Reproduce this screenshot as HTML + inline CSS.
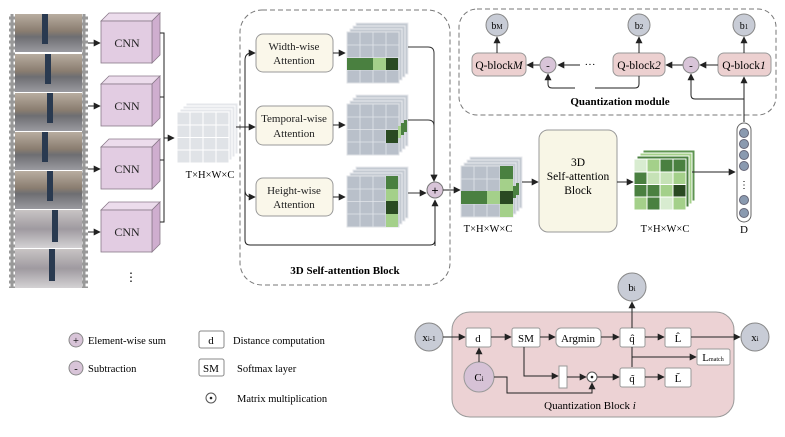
<!DOCTYPE html>
<html><head><meta charset="utf-8"><style>
html,body{margin:0;padding:0;background:#fff;}
svg{display:block;font-family:"Liberation Serif",serif;}
</style></head><body>
<svg width="785" height="437" viewBox="0 0 785 437" xmlns="http://www.w3.org/2000/svg">
<defs>
<marker id="a" viewBox="0 0 10 10" refX="9" refY="5" markerWidth="7" markerHeight="7" orient="auto" markerUnits="userSpaceOnUse"><path d="M0,0L10,5L0,10z" fill="#222"/></marker>
<pattern id="spr" width="6" height="6" patternUnits="userSpaceOnUse"><rect width="6" height="6" fill="#999"/><rect x="1.5" y="1.5" width="3" height="3" fill="#fff"/></pattern>
<linearGradient id="ph" x1="0" y1="0" x2="0" y2="1"><stop offset="0" stop-color="#b8ada0"/><stop offset="0.45" stop-color="#8a7d70"/><stop offset="0.6" stop-color="#6e6e72"/><stop offset="1" stop-color="#9a9aa0"/></linearGradient>
<linearGradient id="ph2" x1="0" y1="0" x2="0" y2="1"><stop offset="0" stop-color="#c8c4c4"/><stop offset="0.5" stop-color="#9f9aa0"/><stop offset="1" stop-color="#d4d2d4"/></linearGradient>
<g id="gg">
<rect x="9" y="-9" width="52" height="51" fill="#c4cad2" stroke="#e8eaee"/>
<rect x="6" y="-6" width="52" height="51" fill="#c4cad2" stroke="#e8eaee"/>
<rect x="3" y="-3" width="52" height="51" fill="#c4cad2" stroke="#e8eaee"/>
<rect x="0" y="0" width="52" height="51" fill="#b9c0ca" stroke="#dfe2e6"/>
<path d="M13,0V51M26,0V51M39,0V51M0,13H52M0,25.5H52M0,38H52" stroke="#e2e5ea" stroke-width="0.8"/>
</g>
</defs>

<rect x="9" y="14" width="6" height="274" fill="url(#spr)"/>
<rect x="82" y="14" width="6" height="274" fill="url(#spr)"/>
<g>
<rect x="15" y="14" width="67" height="38" fill="url(#ph)"/>
<rect x="15" y="54" width="67" height="38" fill="url(#ph)"/>
<rect x="15" y="93" width="67" height="38" fill="url(#ph)"/>
<rect x="15" y="132" width="67" height="38" fill="url(#ph)"/>
<rect x="15" y="171" width="67" height="38" fill="url(#ph)"/>
<rect x="15" y="210" width="67" height="38" fill="url(#ph2)"/>
<rect x="15" y="249" width="67" height="39" fill="url(#ph2)"/>
<path d="M45,14v30M48,54v30M50,93v30M45,132v30M50,171v30M55,210v32M52,249v32" stroke="#2a3a50" stroke-width="6"/>
</g>

<g stroke="#8a7a8a" stroke-width="0.8">
<g id="cube">
<path d="M101,21l8,-8h51l-8,8z" fill="#ecdcec"/>
<path d="M152,21l8,-8v42l-8,8z" fill="#cfaecf"/>
<rect x="101" y="21" width="51" height="42" fill="#e2cce2"/>
</g>
<use href="#cube" y="63"/><use href="#cube" y="126"/><use href="#cube" y="189"/>
</g>
<g font-size="12" text-anchor="middle" fill="#222">
<text x="127" y="47">CNN</text><text x="127" y="110">CNN</text><text x="127" y="173">CNN</text><text x="127" y="236">CNN</text>
</g>
<text x="131" y="281" font-size="12" text-anchor="middle">⋮</text>
<g stroke="#222" stroke-width="1" fill="none" marker-end="url(#a)">
<path d="M88,43H100"/><path d="M88,106H100"/><path d="M88,169H100"/><path d="M88,232H100"/>
</g>
<path d="M160,33h4v189h-4M160,97h4M160,160h4" stroke="#222" fill="none"/>
<path d="M164,138H174" stroke="#222" marker-end="url(#a)"/>

<g transform="translate(177,112)" opacity="0.75">
<rect x="9" y="-9" width="52" height="51" fill="#dde0e5" stroke="#fff"/>
<rect x="6" y="-6" width="52" height="51" fill="#dde0e5" stroke="#fff"/>
<rect x="3" y="-3" width="52" height="51" fill="#dde0e5" stroke="#fff"/>
<rect x="0" y="0" width="52" height="51" fill="#d6dae0" stroke="#fff"/>
<path d="M13,0V51M26,0V51M39,0V51M0,13H52M0,25.5H52M0,38H52" stroke="#fff"/>
</g>
<text x="210" y="178" font-size="10.5" text-anchor="middle">T×H×W×C</text>

<rect x="240" y="10" width="210" height="275" rx="22" fill="none" stroke="#777" stroke-dasharray="5,3"/>
<text x="345" y="274" font-size="11" font-weight="bold" text-anchor="middle">3D Self-attention Block</text>
<g fill="#faf7ea" stroke="#999">
<rect x="256" y="34" width="77" height="38" rx="7"/>
<rect x="256" y="106" width="77" height="39" rx="7"/>
<rect x="256" y="178" width="77" height="38" rx="7"/>
</g>
<g font-size="11" text-anchor="middle" fill="#222">
<text x="294" y="50">Width-wise</text><text x="294" y="64">Attention</text>
<text x="294" y="122">Temporal-wise</text><text x="294" y="137">Attention</text>
<text x="294" y="194">Height-wise</text><text x="294" y="208">Attention</text>
</g>
<path d="M236,127H245M245,60V240q0,5 5,5H430q5,0 5,-5V201" stroke="#222" fill="none"/>
<g stroke="#222" fill="none" marker-end="url(#a)">
<path d="M245,60q0,-7 7,-7H255"/><path d="M245,127H255"/><path d="M245,190q0,7 7,7H255"/>
<path d="M333,53H345"/><path d="M333,125H345"/><path d="M333,197H345"/>
<path d="M435,246V200"/>
</g>
<use href="#gg" x="347" y="32"/>
<g><rect x="347" y="58" width="13" height="12" fill="#4a8040"/><rect x="360" y="58" width="13" height="12" fill="#4a8040"/><rect x="373" y="58" width="13" height="12" fill="#a4d08a"/><rect x="386" y="58" width="12" height="12" fill="#2a4a22"/></g>
<use href="#gg" x="347" y="104"/>
<g><rect x="386" y="130" width="12" height="13" fill="#2a4a22"/><rect x="398" y="126" width="3" height="12" fill="#a4d08a"/><rect x="401" y="123" width="3" height="12" fill="#4a8040"/><rect x="404" y="120" width="3" height="12" fill="#4a8040"/></g>
<use href="#gg" x="347" y="176"/>
<g><rect x="386" y="176" width="12" height="13" fill="#4a8040"/><rect x="386" y="189" width="12" height="12" fill="#a4d08a"/><rect x="386" y="201" width="12" height="13" fill="#2a4a22"/><rect x="386" y="214" width="12" height="13" fill="#a4d08a"/></g>
<g stroke="#333" fill="none">
<path d="M408,47H428q6,0 6,6V181" marker-end="url(#a)"/>
<path d="M408,120H428q6,0 6,6V181" marker-end="url(#a)"/>
<path d="M408,193H426" marker-end="url(#a)"/>
</g>
<circle cx="435" cy="190" r="8" fill="#d8c4d8" stroke="#777"/>
<text x="435" y="194.5" font-size="12" text-anchor="middle" font-family="Liberation Sans,sans-serif">+</text>
<path d="M443,190H460" stroke="#222" marker-end="url(#a)"/>

<use href="#gg" x="461" y="166"/>
<g><rect x="500" y="166" width="13" height="13" fill="#4a8040"/><rect x="500" y="179" width="13" height="12" fill="#a4d08a"/><rect x="461" y="191" width="26" height="13" fill="#4a8040"/><rect x="487" y="191" width="13" height="13" fill="#a4d08a"/><rect x="500" y="191" width="13" height="13" fill="#2a4a22"/><rect x="500" y="204" width="13" height="13" fill="#a4d08a"/><rect x="513" y="186" width="3" height="12" fill="#4a8040"/><rect x="516" y="183" width="3" height="12" fill="#4a8040"/></g>
<text x="488" y="232" font-size="10.5" text-anchor="middle">T×H×W×C</text>
<path d="M522,182H538" stroke="#222" marker-end="url(#a)"/>
<rect x="539" y="130" width="78" height="102" rx="9" fill="#f8f6e6" stroke="#999"/>
<g font-size="11.5" text-anchor="middle"><text x="578" y="166">3D</text><text x="578" y="180">Self-attention</text><text x="578" y="194">Block</text></g>
<path d="M617,182H633" stroke="#222" marker-end="url(#a)"/>

<g transform="translate(634,159)">
<rect x="9" y="-9" width="52" height="51" fill="#5e9450" stroke="#fff"/>
<rect x="6" y="-6" width="52" height="51" fill="#a4d08a" stroke="#fff"/>
<rect x="3" y="-3" width="52" height="51" fill="#4a8040" stroke="#fff"/>
<rect x="0" y="0" width="13" height="13" fill="#d8ecd0"/><rect x="13" y="0" width="13" height="13" fill="#a4d08a"/><rect x="26" y="0" width="13" height="13" fill="#4a8040"/><rect x="39" y="0" width="13" height="13" fill="#4a8040"/>
<rect x="0" y="13" width="13" height="25" fill="#4a8040"/><rect x="13" y="13" width="26" height="12" fill="#c6e2b6"/><rect x="39" y="13" width="13" height="12" fill="#a4d08a"/>
<rect x="13" y="25" width="13" height="13" fill="#4a8040"/><rect x="26" y="25" width="13" height="13" fill="#a4d08a"/><rect x="39" y="25" width="13" height="13" fill="#2a4a22"/>
<rect x="0" y="38" width="13" height="13" fill="#a4d08a"/><rect x="13" y="38" width="13" height="13" fill="#4a8040"/><rect x="26" y="38" width="13" height="13" fill="#d8ecd0"/><rect x="39" y="38" width="13" height="13" fill="#a4d08a"/>
<path d="M13,0V51M26,0V51M39,0V51M0,13H52M0,25.5H52M0,38H52M0,0H52V51H0z" stroke="#fff" fill="none"/>
</g>
<text x="665" y="232" font-size="10.5" text-anchor="middle">T×H×W×C</text>
<path d="M692,172H735" stroke="#222" marker-end="url(#a)"/>
<rect x="737" y="123" width="14" height="99" rx="7" fill="#fff" stroke="#666"/>
<g fill="#8a9ab0" stroke="#667"><circle cx="744" cy="133" r="4.5"/><circle cx="744" cy="144" r="4.5"/><circle cx="744" cy="155" r="4.5"/><circle cx="744" cy="166" r="4.5"/><circle cx="744" cy="200" r="4.5"/><circle cx="744" cy="213" r="4.5"/></g>
<text x="744" y="188" font-size="10" text-anchor="middle">⋮</text>
<text x="744" y="233" font-size="11" text-anchor="middle">D</text>

<rect x="459" y="9" width="317" height="106" rx="18" fill="none" stroke="#777" stroke-dasharray="5,3"/>
<text x="620" y="105" font-size="11" font-weight="bold" text-anchor="middle">Quantization module</text>
<g fill="#ecd0d0" stroke="#999">
<rect x="472" y="53" width="54" height="23" rx="6"/>
<rect x="613" y="53" width="52" height="23" rx="6"/>
<rect x="718" y="53" width="53" height="23" rx="6"/>
</g>
<g font-size="11.5" text-anchor="middle"><text x="499" y="69">Q-block<tspan font-style="italic">M</tspan></text><text x="639" y="69">Q-block<tspan font-style="italic">2</tspan></text><text x="744" y="69">Q-block<tspan font-style="italic">1</tspan></text></g>
<g fill="#c8ccd6" stroke="#888"><circle cx="497" cy="25" r="11"/><circle cx="639" cy="25" r="11"/><circle cx="744" cy="25" r="11"/></g>
<g font-size="10" text-anchor="middle"><text x="497" y="29">b<tspan font-size="7">M</tspan></text><text x="639" y="29">b<tspan font-size="7">2</tspan></text><text x="744" y="29">b<tspan font-size="7">1</tspan></text></g>
<g stroke="#222" fill="none" marker-end="url(#a)">
<path d="M497,53V37"/><path d="M639,53V37"/><path d="M744,53V37"/>
<path d="M718,65H700"/><path d="M683,65H666"/>
<path d="M601,65H558"/><path d="M540,65H527"/>
<path d="M744,122V77"/><path d="M744,99H695q-4,0 -4,-4V74"/>
<path d="M639,76V84q0,4 -4,4H595M575,88H552q-4,0 -4,-4V74"/>
</g>
<rect x="580" y="61" width="25" height="8" fill="#fff"/>
<text x="590" y="68" font-size="11" text-anchor="middle">···</text>
<g fill="#d8c4d8" stroke="#888"><circle cx="548" cy="65" r="8"/><circle cx="691" cy="65" r="8"/></g>
<g font-size="11" text-anchor="middle"><text x="548" y="69">-</text><text x="691" y="69">-</text></g>

<g fill="#d8c4d8" stroke="#888"><circle cx="76" cy="340" r="7"/><circle cx="76" cy="368" r="7"/></g>
<g font-size="10.5"><text x="76" y="344" text-anchor="middle">+</text><text x="76" y="372" text-anchor="middle">-</text>
<text x="88" y="344">Element-wise sum</text><text x="88" y="372">Subtraction</text>
<text x="233" y="344">Distance computation</text><text x="237" y="372">Softmax layer</text><text x="237" y="402">Matrix multiplication</text>
</g>
<rect x="199" y="331" width="25" height="17" rx="2" fill="#fff" stroke="#888"/>
<rect x="199" y="359" width="25" height="17" rx="2" fill="#fff" stroke="#888"/>
<g font-size="11" text-anchor="middle"><text x="211" y="344">d</text><text x="211" y="372">SM</text></g>
<circle cx="211" cy="398" r="5" fill="#fff" stroke="#555"/><circle cx="211" cy="398" r="1.3" fill="#222"/>

<rect x="452" y="312" width="282" height="105" rx="18" fill="#ecd2d4" stroke="#999"/>
<text x="590" y="409" font-size="11" text-anchor="middle">Quantization Block <tspan font-style="italic">i</tspan></text>
<circle cx="429" cy="337" r="14" fill="#c8ccd6" stroke="#888"/>
<text x="429" y="341" font-size="11" text-anchor="middle">x<tspan font-size="7">i-1</tspan></text>
<circle cx="755" cy="337" r="14" fill="#c8ccd6" stroke="#888"/>
<text x="755" y="341" font-size="11" text-anchor="middle">x<tspan font-size="7">i</tspan></text>
<circle cx="632" cy="287" r="14" fill="#c8ccd6" stroke="#888"/>
<text x="632" y="291" font-size="11" text-anchor="middle">b<tspan font-size="7">i</tspan></text>
<circle cx="479" cy="377" r="15" fill="#d6c2d6" stroke="#999"/>
<text x="479" y="381" font-size="11" text-anchor="middle">C<tspan font-size="7">i</tspan></text>
<g fill="#fff" stroke="#999">
<rect x="466" y="328" width="25" height="19" rx="2"/>
<rect x="512" y="328" width="28" height="19" rx="2"/>
<rect x="556" y="328" width="45" height="19" rx="5"/>
<rect x="620" y="328" width="25" height="19" rx="2"/>
<rect x="665" y="328" width="26" height="19" rx="2"/>
<rect x="697" y="349" width="33" height="16" rx="2"/>
<rect x="620" y="368" width="25" height="19" rx="2"/>
<rect x="665" y="368" width="26" height="19" rx="2"/>
<rect x="559" y="366" width="8" height="22"/>
</g>
<g font-size="11" text-anchor="middle">
<text x="478" y="342">d</text><text x="526" y="342">SM</text><text x="578" y="342">Argmin</text>
<text x="632" y="342">q̂</text><text x="678" y="342">L̂</text><text x="632" y="382">q̃</text><text x="678" y="382">L̃</text>
<text x="713" y="361">L<tspan font-size="6">match</tspan></text>
</g>
<g stroke="#222" fill="none" marker-end="url(#a)">
<path d="M443,337H465"/><path d="M491,337H511"/><path d="M540,337H555"/><path d="M601,337H619"/><path d="M645,337H664"/><path d="M691,337H740"/>
<path d="M479,362V348"/><path d="M632,328V302"/>
<path d="M632,367V347M632,357H696"/>
<path d="M524,347V376H558"/><path d="M567,377H586"/><path d="M597,377H619"/><path d="M645,377H664"/>
<path d="M494,377H507V393H592V383"/>
</g>
<circle cx="592" cy="377" r="5" fill="#fff" stroke="#555"/><circle cx="592" cy="377" r="1.3" fill="#222"/>
</svg>
</body></html>
